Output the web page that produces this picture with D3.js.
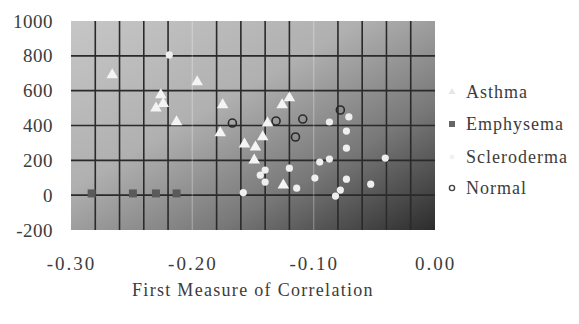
<!DOCTYPE html>
<html>
<head>
<meta charset="utf-8">
<script src="https://cdn.jsdelivr.net/npm/d3@7"></script>
<style>
  body { margin: 0; background: #fff; }
</style>
</head>
<body>
<div id="chart"></div>
<script>
// values: [first measure of correlation, second value]
const asthma = [
  [-0.266, 690], [-0.196, 650], [-0.226, 575], [-0.230, 500], [-0.224, 525],
  [-0.213, 420], [-0.175, 518], [-0.177, 357], [-0.126, 518], [-0.120, 558],
  [-0.138, 414], [-0.142, 334], [-0.157, 293], [-0.148, 276], [-0.149, 201],
  [-0.125, 58]
];
const emphysema = [[-0.283, 10], [-0.249, 10], [-0.230, 10], [-0.213, 10]];
const scleroderma = [
  [-0.219, 805], [-0.140, 144], [-0.120, 155], [-0.144, 115], [-0.140, 75],
  [-0.114, 40], [-0.158, 15], [-0.087, 420], [-0.071, 449], [-0.073, 368],
  [-0.073, 270], [-0.041, 213], [-0.087, 207], [-0.095, 190], [-0.099, 98],
  [-0.073, 92], [-0.053, 63], [-0.078, 29], [-0.082, -5]
];
const normal = [[-0.167, 414], [-0.131, 426], [-0.109, 437], [-0.115, 334], [-0.078, 489]];

const yTicks = [-200, 0, 200, 400, 600, 800, 1000];
const xTicks = [-0.30, -0.20, -0.10, 0.00];
const xMinor = [-0.28, -0.26, -0.24, -0.22, -0.18, -0.16, -0.14, -0.12, -0.08, -0.06, -0.04, -0.02];
const legendNames = ["Asthma", "Emphysema", "Scleroderma", "Normal"];
const xTitle = "First Measure of Correlation";

const serif = '"Liberation Serif", "Times New Roman", Times, serif';
const width = 579, height = 324;
const plot = {left: 71, right: 435, top: 21, bottom: 230};

const svg = d3.select("#chart").append("svg")
  .attr("width", width)
  .attr("height", height);

const defs = svg.append("defs");
const grad = defs.append("linearGradient")
  .attr("id", "bg")
  .attr("x1", 0).attr("y1", 0).attr("x2", 1).attr("y2", 1);
grad.append("stop").attr("offset", 0).attr("stop-color", "#c6c6c6");
grad.append("stop").attr("offset", 0.4).attr("stop-color", "#b0b0b0");
grad.append("stop").attr("offset", 0.7).attr("stop-color", "#787878");
grad.append("stop").attr("offset", 1).attr("stop-color", "#2c2c2c");

defs.append("filter").attr("id", "soft")
  .append("feGaussianBlur").attr("stdDeviation", 0.7);

const x = d3.scaleLinear().domain([-0.3, 0]).range([plot.left, plot.right]);
const y = d3.scaleLinear().domain([-200, 1000]).range([plot.bottom, plot.top]);

svg.append("rect")
  .attr("x", plot.left).attr("y", plot.top)
  .attr("width", plot.right - plot.left)
  .attr("height", plot.bottom - plot.top)
  .attr("fill", "url(#bg)");

// grid
const grid = svg.append("g").attr("filter", "url(#soft)");
grid.selectAll(".hg").data(yTicks.filter(d => d > -200 && d < 1000)).join("line")
  .attr("x1", plot.left).attr("x2", plot.right)
  .attr("y1", d => y(d)).attr("y2", d => y(d))
  .attr("stroke", "#2a2a2a").attr("stroke-width", 1.6);
grid.selectAll(".vg").data(xMinor).join("line")
  .attr("y1", plot.top).attr("y2", plot.bottom)
  .attr("x1", d => x(d)).attr("x2", d => x(d))
  .attr("stroke", "#2a2a2a").attr("stroke-width", 1.6);
grid.selectAll(".mg").data([-0.2, -0.1]).join("line")
  .attr("y1", plot.top).attr("y2", plot.bottom)
  .attr("x1", d => x(d)).attr("x2", d => x(d))
  .attr("stroke", "#ffffff").attr("stroke-opacity", 0.25).attr("stroke-width", 1.4);

// axes
const yAxis = svg.append("g")
  .attr("transform", `translate(${plot.left},0)`)
  .call(d3.axisLeft(y).tickValues(yTicks).tickSize(0).tickPadding(18).tickFormat(d => String(d)));
yAxis.select(".domain").remove();
yAxis.selectAll("text")
  .style("font-family", serif)
  .style("font-size", "19px")
  .style("letter-spacing", "0.5px")
  .attr("fill", "#3c3c3c");

const xAxis = svg.append("g")
  .attr("transform", `translate(0,${plot.bottom})`)
  .call(d3.axisBottom(x).tickValues(xTicks).tickSize(0).tickPadding(27).tickFormat(d => d.toFixed(2)));
xAxis.select(".domain").remove();
xAxis.selectAll("text")
  .style("font-family", serif)
  .style("font-size", "19px")
  .style("letter-spacing", "2px")
  .attr("fill", "#3c3c3c");

svg.append("text")
  .attr("x", 253).attr("y", 296)
  .attr("text-anchor", "middle")
  .attr("fill", "#3c3c3c")
  .style("font-family", serif)
  .style("font-size", "18px")
  .style("letter-spacing", "1.3px")
  .text(xTitle);

// points
const tri = d3.symbol().type(d3.symbolTriangle).size(58);
const marks = svg.append("g").attr("filter", "url(#soft)");

marks.selectAll(".asthma").data(asthma).join("path")
  .attr("d", tri)
  .attr("transform", d => `translate(${x(d[0])},${y(d[1])})`)
  .attr("fill", "#f4f4f4");

marks.selectAll(".scl").data(scleroderma).join("circle")
  .attr("cx", d => x(d[0])).attr("cy", d => y(d[1]))
  .attr("r", 3.6)
  .attr("fill", "#efefef");

marks.selectAll(".emph").data(emphysema).join("rect")
  .attr("x", d => x(d[0]) - 4).attr("y", d => y(d[1]) - 4)
  .attr("width", 8).attr("height", 8)
  .attr("fill", "#5a5a5a");

marks.selectAll(".norm").data(normal).join("circle")
  .attr("cx", d => x(d[0])).attr("cy", d => y(d[1]))
  .attr("r", 4)
  .attr("fill", "none")
  .attr("stroke", "#2a2a2a")
  .attr("stroke-width", 1.6);

// legend
const legend = svg.append("g").attr("transform", "translate(452,92)");
const item = legend.selectAll("g").data(legendNames).join("g")
  .attr("transform", (d, i) => `translate(0,${[0, 32, 65, 96][i]})`);
item.append("text")
  .attr("x", 14).attr("dy", "0.35em")
  .attr("fill", "#3c3c3c")
  .style("font-family", serif)
  .style("font-size", "18px")
  .style("letter-spacing", "1px")
  .text(d => d);
item.filter(d => d === "Asthma").append("path")
  .attr("d", d3.symbol().type(d3.symbolTriangle).size(22))
  .attr("fill", "#e6e6e6");
item.filter(d => d === "Emphysema").append("rect")
  .attr("x", -3).attr("y", -3).attr("width", 6).attr("height", 6)
  .attr("fill", "#666");
item.filter(d => d === "Scleroderma").append("circle")
  .attr("r", 2.5).attr("fill", "#f2f2f2");
item.filter(d => d === "Normal").append("circle")
  .attr("r", 2.6).attr("fill", "none").attr("stroke", "#444").attr("stroke-width", 1.4);
</script>
</body>
</html>
